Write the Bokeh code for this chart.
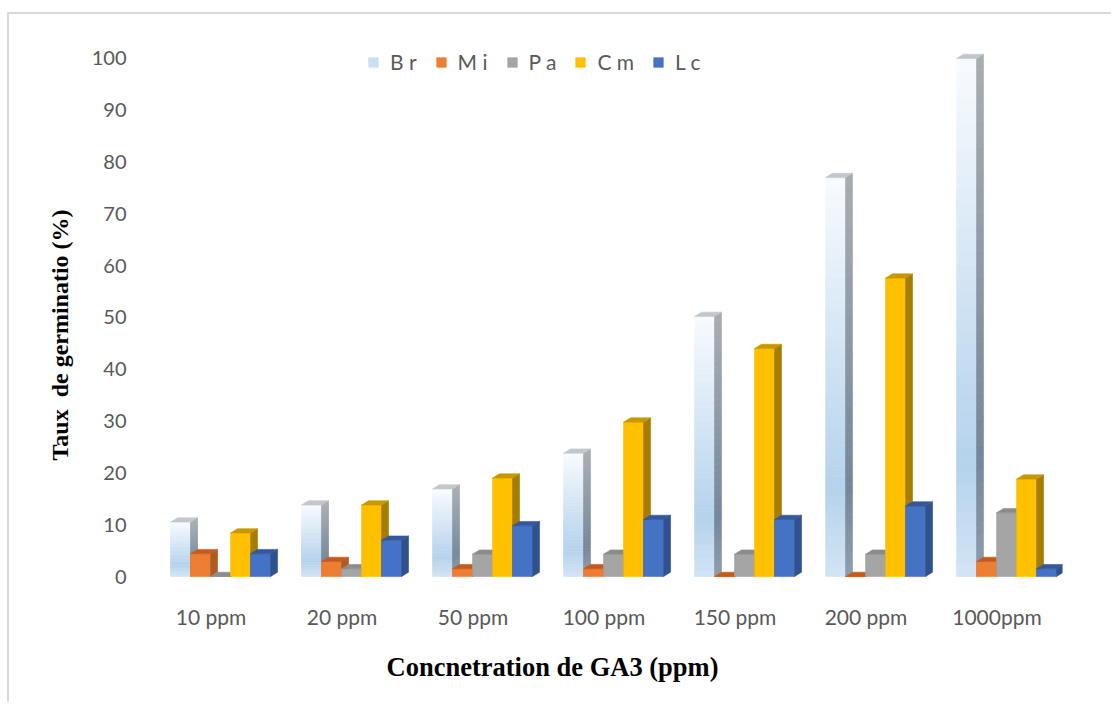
from bokeh.plotting import figure
from bokeh.models import ColumnDataSource, Legend, LegendItem, FixedTicker, Title
from bokeh.embed import file_html
from bokeh.resources import INLINE

# ---- data ----
categories = ["10 ppm", "20 ppm", "50 ppm", "100 ppm", "150 ppm", "200 ppm", "1000ppm"]
series_names = ["B r", "M i", "P a", "C m", "L c"]
Br = [10.5, 13.8, 16.9, 23.8, 50.2, 77.0, 100.0]
Mi = [4.4, 2.9, 1.5, 1.5, 0.0, 0.0, 2.9]
Pa = [0.0, 1.5, 4.3, 4.3, 4.3, 4.3, 12.3]
Cm = [8.4, 13.8, 19.0, 29.8, 44.0, 57.6, 18.8]
Lc = [4.4, 7.0, 9.8, 11.0, 11.0, 13.6, 1.5]
yticks = [0, 10, 20, 30, 40, 50, 60, 70, 80, 90, 100]
x_title = "Concnetration de GA3 (ppm)"
y_title = "Taux\u00a0 de germinatio (%)"

series = [Br, Mi, Pa, Cm, Lc]
front_cols = [None, "#ED7D31", "#A5A5A5", "#FFC000", "#4472C4"]
side_cols = [None, "#AE5A21", "#7C7C7C", "#A67D00", "#2F528F"]
top_cols = [None, "#C25B1C", "#8C8C8C", "#C89800", "#35589A"]

W, H = 1104, 690
p = figure(width=W, height=H, x_range=(-0.5, 6.5), y_range=(-2.70, 103.47),
           output_backend="svg", toolbar_location=None,
           min_border_left=136, min_border_right=51, min_border_top=26, min_border_bottom=114)
p.margin = (12, 0, 0, 7)
p.styles = {"border-left": "2px solid #D9D9D9", "border-top": "2px solid #D9D9D9"}
p.outline_line_color = None
p.xgrid.visible = False
p.ygrid.visible = False
p.background_fill_color = "white"
p.border_fill_color = "white"

bw = 0.1527
start = -0.309
dx = 0.0534
dy = 0.83


def hex2rgb(h):
    h = h.lstrip("#")
    return tuple(int(h[i:i + 2], 16) for i in (0, 2, 4))


def interp(stops, t):
    for (t0, c0), (t1, c1) in zip(stops, stops[1:]):
        if t0 <= t <= t1:
            f = (t - t0) / (t1 - t0) if t1 > t0 else 0
            a, b = hex2rgb(c0), hex2rgb(c1)
            return "#%02x%02x%02x" % tuple(int(round(a[i] + (b[i] - a[i]) * f)) for i in range(3))
    return stops[-1][1]


front_stops = [(0.0, "#D3E4F4"), (0.22, "#B5D2EC"), (1.0, "#F8FBFE")]
side_stops = [(0.0, "#8E9DAC"), (0.22, "#74879A"), (1.0, "#A9ADB1")]

xs, ys, fc = [], [], []
legend_index = [None] * len(series)
N = 40
for g in range(len(categories)):
    for k, s in enumerate(series):
        v = s[g]
        x0 = g + start + k * bw
        x1 = x0 + bw
        if k == 0:
            for j in range(N):
                y0 = v * j / N
                y1 = v * (j + 1) / N
                t = (j + 0.5) / N
                if legend_index[0] is None and t > 0.45:
                    legend_index[0] = len(xs)
                xs.append([x0, x1, x1, x0]); ys.append([y0, y0, y1, y1]); fc.append(interp(front_stops, t))
            for j in range(N):
                y0 = v * j / N
                y1 = v * (j + 1) / N
                t = (j + 0.5) / N
                xs.append([x1, x1 + dx, x1 + dx, x1]); ys.append([y0, y0 + dy, y1 + dy, y1]); fc.append(interp(side_stops, t))
            xs.append([x0, x1, x1 + dx, x0 + dx]); ys.append([v, v, v + dy, v + dy]); fc.append("#C3C7CB")
        else:
            if legend_index[k] is None:
                legend_index[k] = len(xs)
            xs.append([x0, x1, x1, x0]); ys.append([0, 0, v, v]); fc.append(front_cols[k])
            xs.append([x1, x1 + dx, x1 + dx, x1]); ys.append([0, dy, v + dy, v]); fc.append(side_cols[k])
            xs.append([x0, x1, x1 + dx, x0 + dx]); ys.append([v, v, v + dy, v + dy]); fc.append(top_cols[k])

src = ColumnDataSource(dict(xs=xs, ys=ys, fc=fc))
bars = p.patches("xs", "ys", source=src, fill_color="fc", line_color="fc", line_width=0.6)

# legend
items = [LegendItem(label=name, renderers=[bars], index=idx)
         for name, idx in zip(series_names, legend_index)]
legend = Legend(items=items, orientation="horizontal", location=(222, 516),
                glyph_width=12, glyph_height=12, label_standoff=11, spacing=18,
                padding=0, margin=0, border_line_color=None, background_fill_alpha=0,
                label_text_font="Lato", label_text_font_size="21px", label_text_color="#595959")
p.add_layout(legend)

# axes
for ax in (p.xaxis[0], p.yaxis[0]):
    ax.axis_line_color = None
    ax.major_tick_line_color = None
    ax.minor_tick_line_color = None
    ax.major_label_text_font = "Lato"
    ax.major_label_text_color = "#595959"

p.yaxis.ticker = FixedTicker(ticks=yticks)
p.yaxis.major_label_text_font_size = "20px"
p.yaxis.major_label_standoff = 13

p.xaxis.ticker = FixedTicker(ticks=list(range(len(categories))))
p.xaxis.major_label_overrides = {i: c for i, c in enumerate(categories)}
p.xaxis.major_label_text_font_size = "21px"
p.xaxis.major_label_standoff = 7

# axis titles
p.add_layout(Title(text=x_title, align="left", offset=241, standoff=36,
                   text_font="Liberation Serif", text_font_style="bold",
                   text_font_size="26.5px", text_color="#000000"), "below")
p.add_layout(Title(text=y_title, align="left", offset=130, standoff=32,
                   text_font="Liberation Serif", text_font_style="bold",
                   text_font_size="24px", text_color="#000000"), "left")

open("out.html", "w").write(file_html(p, INLINE))
